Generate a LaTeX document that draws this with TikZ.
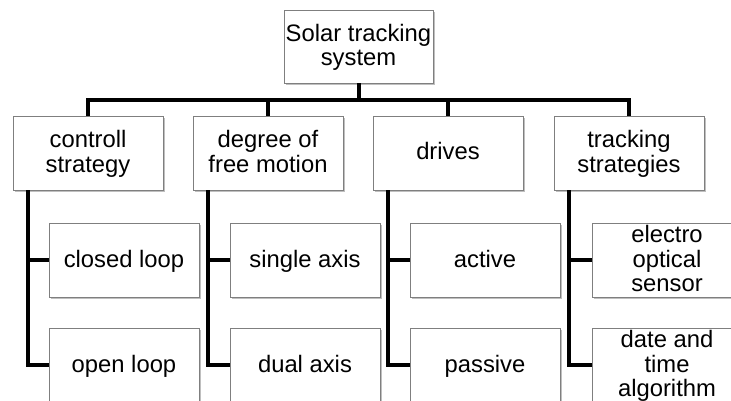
\documentclass[tikz,border=0pt]{standalone}
\usepackage{fontspec}
\setmainfont{Liberation Sans}
\usetikzlibrary{shadows}
\definecolor{boxborder}{HTML}{7F7F7F}
\newcommand{\tstrut}{\rule[-5pt]{0pt}{24pt}}
\tikzset{
  boxnode/.style={draw=boxborder, line width=0.9pt, fill=white, minimum width=150pt, minimum height=74pt,
    inner sep=0pt, align=center, font=\fontsize{23.8}{24.5}\selectfont,
    drop shadow={shadow xshift=1.6pt, shadow yshift=-2.4pt, fill=black, opacity=0.25}},
  link/.style={line width=4pt, black},
}
\begin{document}
\begin{tikzpicture}[x=1pt,y=-1pt]
\useasboundingbox (0,0) rectangle (731,401);
\clip (0,0) rectangle (731,401);
% level 0
\node[boxnode, minimum width=149pt, minimum height=73pt] (root) at (358.5,46.5) {\tstrut Solar tracking\\system\tstrut};
% level 1
\node[boxnode] (cs) at (88,153) {\tstrut controll\\strategy\tstrut};
\node[boxnode] (df) at (268,153) {\tstrut degree of\\free motion\tstrut};
\node[boxnode] (dr) at (448,153) {\tstrut drives};
\node[boxnode] (ts) at (629,153) {\tstrut tracking\\strategies\tstrut};
% level 2
\node[boxnode] (cl) at (124,260) {\tstrut closed loop};
\node[boxnode] (sa) at (305,260) {\tstrut single axis};
\node[boxnode] (ac) at (485,260) {\tstrut active};
\node[boxnode] (eo) at (667,260) {\tstrut electro\\optical\\sensor\tstrut};
% level 3
\node[boxnode] (ol) at (124,365) {\tstrut open loop};
\node[boxnode] (da) at (305,365) {\tstrut dual axis};
\node[boxnode] (pa) at (485,365) {\tstrut passive};
\node[boxnode] (dt) at (667,365) {\tstrut date and\\time\\algorithm\tstrut};
% bus
\coordinate (bus) at (358.5,100);
\draw[link] (root.south) -- (bus);
\draw[link, line join=miter] (cs.north) -- (cs.north |- bus) -- (ts.north |- bus) -- (ts.north);
\draw[link] (df.north) -- (df.north |- bus);
\draw[link] (dr.north) -- (dr.north |- bus);
% branches
\foreach \p/\a/\b in {cs/cl/ol, df/sa/da, dr/ac/pa, ts/eo/dt}{
  \draw[link, line join=miter] ([xshift=15pt]\p.south west) |- (\b.west);
  \draw[link] ([xshift=15pt]\p.south west |- \a.west) -- (\a.west);
}
\end{tikzpicture}
\end{document}
